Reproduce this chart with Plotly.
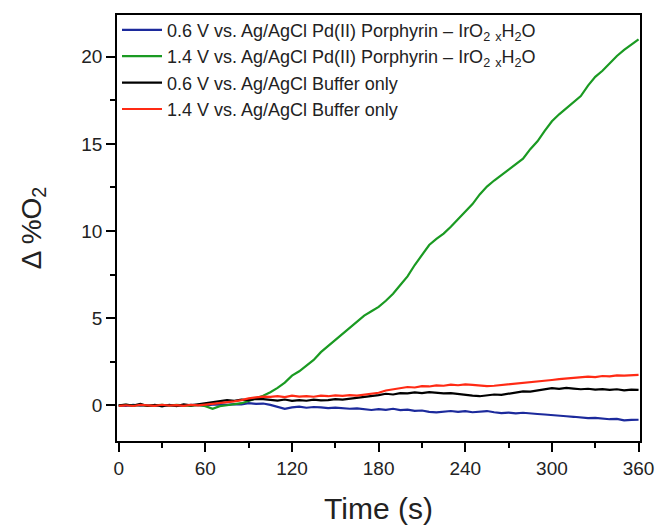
import plotly.graph_objects as go

time_s = list(range(0, 361, 5))

blue_06_porph = [0.00, -0.03, 0.02, -0.02, 0.00, -0.04, 0.01, -0.03, 0.00, -0.02, 0.02, -0.01, 0.00,
                 0.03, 0.05, 0.02, 0.07, 0.05, 0.12, 0.08, 0.10, 0.02, -0.07, -0.20, -0.12, -0.08,
                 -0.14, -0.10, -0.12, -0.16, -0.13, -0.17, -0.20, -0.18, -0.24, -0.27, -0.22, -0.26,
                 -0.20, -0.28, -0.25, -0.32, -0.30, -0.38, -0.41, -0.36, -0.33, -0.38, -0.34, -0.40,
                 -0.36, -0.33, -0.40, -0.45, -0.42, -0.46, -0.43, -0.48, -0.50, -0.53, -0.55, -0.60,
                 -0.63, -0.66, -0.70, -0.74, -0.72, -0.77, -0.80, -0.78, -0.86, -0.84, -0.83]

green_14_porph = [0.00, 0.03, -0.02, 0.02, -0.03, 0.01, 0.03, -0.02, 0.02, 0.00, -0.03, 0.02, -0.05,
                  -0.20, -0.05, 0.00, 0.05, 0.12, 0.25, 0.40, 0.55, 0.75, 1.00, 1.30, 1.70, 1.95,
                  2.30, 2.60, 3.05, 3.40, 3.75, 4.15, 4.45, 4.85, 5.15, 5.40, 5.65, 6.00, 6.40, 6.90,
                  7.40, 8.05, 8.60, 9.20, 9.55, 9.85, 10.25, 10.70, 11.10, 11.55, 12.10, 12.55, 12.90,
                  13.20, 13.55, 13.85, 14.15, 14.70, 15.15, 15.75, 16.30, 16.70, 17.05, 17.40, 17.75,
                  18.35, 18.85, 19.20, 19.65, 20.05, 20.40, 20.70, 21.00]

black_06_buffer = [0.00, 0.04, -0.02, 0.08, -0.04, 0.02, -0.06, 0.03, -0.05, 0.05, 0.00, 0.06, 0.10,
                   0.18, 0.22, 0.30, 0.25, 0.32, 0.30, 0.36, 0.35, 0.30, 0.27, 0.33, 0.25, 0.30, 0.26,
                   0.32, 0.28, 0.30, 0.35, 0.33, 0.38, 0.40, 0.45, 0.50, 0.58, 0.66, 0.62, 0.70, 0.68,
                   0.74, 0.70, 0.76, 0.72, 0.68, 0.70, 0.64, 0.60, 0.55, 0.52, 0.58, 0.62, 0.60, 0.66,
                   0.75, 0.80, 0.78, 0.85, 0.90, 0.98, 0.94, 1.00, 0.96, 0.92, 0.95, 0.90, 0.93, 0.88,
                   0.92, 0.86, 0.90, 0.88]

red_14_buffer = [-0.03, 0.00, -0.04, 0.02, 0.00, -0.03, 0.03, -0.02, 0.01, -0.03, 0.02, 0.00, 0.04,
                 0.08, 0.12, 0.15, 0.22, 0.30, 0.40, 0.45, 0.50, 0.48, 0.52, 0.47, 0.55, 0.50, 0.53,
                 0.49, 0.55, 0.52, 0.57, 0.54, 0.58, 0.56, 0.60, 0.65, 0.72, 0.85, 0.92, 0.98, 1.05,
                 1.02, 1.10, 1.08, 1.14, 1.12, 1.18, 1.15, 1.20, 1.17, 1.13, 1.10, 1.12, 1.16, 1.18,
                 1.22, 1.25, 1.30, 1.36, 1.40, 1.45, 1.50, 1.53, 1.58, 1.60, 1.65, 1.62, 1.68, 1.66,
                 1.72, 1.70, 1.74, 1.75]

names = [
    "0.6 V vs. Ag/AgCl Pd(II) Porphyrin \u2013 IrO<sub>2</sub> <sub>x</sub>H<sub>2</sub>O",
    "1.4 V vs. Ag/AgCl Pd(II) Porphyrin \u2013 IrO<sub>2</sub> <sub>x</sub>H<sub>2</sub>O",
    "0.6 V vs. Ag/AgCl Buffer only",
    "1.4 V vs. Ag/AgCl Buffer only",
]
colors = ["#1c2a9c", "#1a9a22", "#000000", "#ff2a14"]
series = [blue_06_porph, green_14_porph, black_06_buffer, red_14_buffer]

x_ticks = [0, 60, 120, 180, 240, 300, 360]
y_ticks = [0, 5, 10, 15, 20]

fig = go.Figure()
for nm, col, ys in zip(names, colors, series):
    fig.add_trace(go.Scatter(x=time_s, y=ys, mode="lines", name=nm,
                             line=dict(color=col, width=2.2)))

font_family = "Liberation Sans, Arial, sans-serif"
axis_common = dict(
    showline=True, linecolor="black", linewidth=1.5, mirror=True,
    ticks="outside", ticklen=9, tickwidth=1.5, tickcolor="black",
    showgrid=False, zeroline=False, automargin=False,
    tickfont=dict(family=font_family, size=19, color="#222"),
)

fig.update_layout(
    width=658, height=526,
    margin=dict(l=117, r=18, t=13, b=85),
    paper_bgcolor="white", plot_bgcolor="white",
    font=dict(family=font_family, color="#222"),
    showlegend=True,
    legend=dict(x=0.0, y=1.008, xanchor="left", yanchor="top",
                bgcolor="rgba(0,0,0,0)", borderwidth=0,
                font=dict(family=font_family, size=18, color="#222"),
                tracegroupgap=0, itemwidth=40),
    xaxis=dict(range=[-1.2, 361], tickvals=x_ticks,
               title=dict(text="Time (s)", font=dict(family=font_family, size=30, color="#222"),
                          standoff=20),
               minor=dict(dtick=30, tick0=0, ticks="outside", ticklen=5, tickwidth=1.5,
                          tickcolor="black"),
               **axis_common),
    yaxis=dict(range=[-2.05, 22.4], tickvals=y_ticks,
               title=dict(text="\u0394 %O<sub>2</sub>", font=dict(family=font_family, size=28, color="#222"),
                          standoff=32),
               minor=dict(dtick=2.5, tick0=0, ticks="outside", ticklen=5, tickwidth=1.5,
                          tickcolor="black"),
               **axis_common),
)

fig.write_html("out.html")
